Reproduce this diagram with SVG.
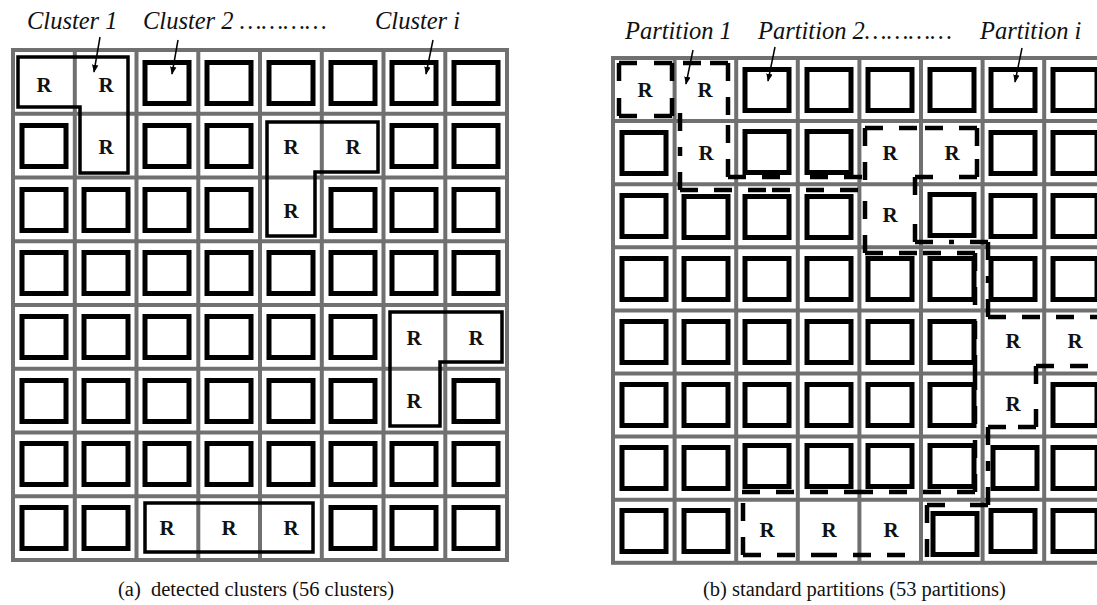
<svg xmlns="http://www.w3.org/2000/svg" xmlns:xlink="http://www.w3.org/1999/xlink" width="1097" height="605" viewBox="0 0 1097 605">
<style>
.grid{fill:none;stroke:#707070;stroke-width:4}
.sq{fill:none;stroke:#000;stroke-width:5}
.r{font-family:"Liberation Serif","Times New Roman",serif;font-weight:bold;font-size:21px;text-anchor:middle;fill:#111}
.lbl{font-family:"Liberation Serif","Times New Roman",serif;font-style:italic;font-size:24.5px;fill:#111}
.cap{font-family:"Liberation Serif","Times New Roman",serif;font-size:20.5px;fill:#111}
.cl{fill:none;stroke:#000;stroke-width:3.5}
.dash{fill:none;stroke:#000;stroke-width:4.5;stroke-dasharray:18 16}
.arr{stroke:#000;stroke-width:1.5;fill:none}
</style>
<defs>
<rect id="sq" class="sq" x="-22" y="-20.5" width="44" height="41"/>
<marker id="ah" viewBox="0 0 10 10" refX="9" refY="5" markerWidth="8" markerHeight="8" orient="auto" markerUnits="userSpaceOnUse"><path d="M0,1 L10,5 L0,9 z" fill="#000"/></marker>
</defs>
<rect width="1097" height="605" fill="#fff"/>

<g id="grid-a">
<rect class="grid" x="13" y="50" width="494" height="510"/>
<path class="grid" d="M74.8 50V560M136.5 50V560M198.3 50V560M260 50V560M321.8 50V560M383.5 50V560M445.3 50V560M13 113.8H507M13 177.5H507M13 241.3H507M13 305H507M13 368.8H507M13 432.5H507M13 496.3H507"/>
</g>
<g id="cells-a">
<use xlink:href="#sq" x="167" y="83"/><use xlink:href="#sq" x="229" y="83"/><use xlink:href="#sq" x="291" y="83"/><use xlink:href="#sq" x="353" y="83"/><use xlink:href="#sq" x="414" y="83"/><use xlink:href="#sq" x="476" y="83"/>
<use xlink:href="#sq" x="44" y="146"/><use xlink:href="#sq" x="167" y="146"/><use xlink:href="#sq" x="229" y="146"/><use xlink:href="#sq" x="414" y="146"/><use xlink:href="#sq" x="476" y="146"/>
<use xlink:href="#sq" x="44" y="210"/><use xlink:href="#sq" x="106" y="210"/><use xlink:href="#sq" x="167" y="210"/><use xlink:href="#sq" x="229" y="210"/><use xlink:href="#sq" x="353" y="210"/><use xlink:href="#sq" x="414" y="210"/><use xlink:href="#sq" x="476" y="210"/>
<use xlink:href="#sq" x="44" y="273"/><use xlink:href="#sq" x="106" y="273"/><use xlink:href="#sq" x="167" y="273"/><use xlink:href="#sq" x="229" y="273"/><use xlink:href="#sq" x="291" y="273"/><use xlink:href="#sq" x="353" y="273"/><use xlink:href="#sq" x="414" y="273"/><use xlink:href="#sq" x="476" y="273"/>
<use xlink:href="#sq" x="44" y="337"/><use xlink:href="#sq" x="106" y="337"/><use xlink:href="#sq" x="167" y="337"/><use xlink:href="#sq" x="229" y="337"/><use xlink:href="#sq" x="291" y="337"/><use xlink:href="#sq" x="353" y="337"/>
<use xlink:href="#sq" x="44" y="401"/><use xlink:href="#sq" x="106" y="401"/><use xlink:href="#sq" x="167" y="401"/><use xlink:href="#sq" x="229" y="401"/><use xlink:href="#sq" x="291" y="401"/><use xlink:href="#sq" x="353" y="401"/><use xlink:href="#sq" x="476" y="401"/>
<use xlink:href="#sq" x="44" y="464"/><use xlink:href="#sq" x="106" y="464"/><use xlink:href="#sq" x="167" y="464"/><use xlink:href="#sq" x="229" y="464"/><use xlink:href="#sq" x="291" y="464"/><use xlink:href="#sq" x="353" y="464"/><use xlink:href="#sq" x="414" y="464"/><use xlink:href="#sq" x="476" y="464"/>
<use xlink:href="#sq" x="44" y="528"/><use xlink:href="#sq" x="106" y="528"/><use xlink:href="#sq" x="353" y="528"/><use xlink:href="#sq" x="414" y="528"/><use xlink:href="#sq" x="476" y="528"/>
<text class="r" x="44" y="92">R</text><text class="r" x="106" y="92">R</text>
<text class="r" x="106" y="154">R</text><text class="r" x="291" y="154">R</text><text class="r" x="353" y="154">R</text>
<text class="r" x="291" y="218">R</text>
<text class="r" x="414" y="345">R</text><text class="r" x="476" y="345">R</text>
<text class="r" x="414" y="408">R</text>
<text class="r" x="167" y="535">R</text><text class="r" x="229" y="535">R</text><text class="r" x="291" y="535">R</text>
</g>
<g id="clusters-a">
<path class="cl" d="M18 57H128V173H80V107H18Z"/>
<path class="cl" d="M267 122H378V172H315V236H267Z"/>
<path class="cl" d="M390 312H502V362H440V426H390Z"/>
<path class="cl" d="M145 503H313V552H145Z"/>
</g>

<g id="grid-b">
<rect class="grid" x="613" y="58" width="492.8" height="504.8"/>
<path class="grid" d="M674.6 58V563M736.2 58V563M797.8 58V563M859.4 58V563M921 58V563M982.6 58V563M1044.2 58V563M613 121.1H1106M613 184.2H1106M613 247.3H1106M613 310.4H1106M613 373.5H1106M613 436.6H1106M613 499.7H1106"/>
</g>
<g id="cells-b">
<use xlink:href="#sq" x="767" y="90"/><use xlink:href="#sq" x="829" y="90"/><use xlink:href="#sq" x="890" y="90"/><use xlink:href="#sq" x="952" y="90"/><use xlink:href="#sq" x="1013" y="90"/><use xlink:href="#sq" x="1075" y="90"/>
<use xlink:href="#sq" x="644" y="153"/><use xlink:href="#sq" x="767" y="152"/><use xlink:href="#sq" x="829" y="152"/><use xlink:href="#sq" x="1013" y="153"/><use xlink:href="#sq" x="1075" y="153"/>
<use xlink:href="#sq" x="644" y="216"/><use xlink:href="#sq" x="706" y="217"/><use xlink:href="#sq" x="767" y="217"/><use xlink:href="#sq" x="829" y="217"/><use xlink:href="#sq" x="952" y="215"/><use xlink:href="#sq" x="1013" y="216"/><use xlink:href="#sq" x="1075" y="216"/>
<use xlink:href="#sq" x="644" y="279"/><use xlink:href="#sq" x="706" y="279"/><use xlink:href="#sq" x="767" y="279"/><use xlink:href="#sq" x="829" y="279"/><use xlink:href="#sq" x="890" y="279"/><use xlink:href="#sq" x="952" y="279"/><use xlink:href="#sq" x="1013" y="279"/><use xlink:href="#sq" x="1075" y="279"/>
<use xlink:href="#sq" x="644" y="342"/><use xlink:href="#sq" x="706" y="342"/><use xlink:href="#sq" x="767" y="342"/><use xlink:href="#sq" x="829" y="342"/><use xlink:href="#sq" x="890" y="342"/><use xlink:href="#sq" x="952" y="342"/>
<use xlink:href="#sq" x="644" y="405"/><use xlink:href="#sq" x="706" y="405"/><use xlink:href="#sq" x="767" y="405"/><use xlink:href="#sq" x="829" y="405"/><use xlink:href="#sq" x="890" y="405"/><use xlink:href="#sq" x="952" y="405"/><use xlink:href="#sq" x="1075" y="405"/>
<use xlink:href="#sq" x="644" y="468"/><use xlink:href="#sq" x="706" y="468"/><use xlink:href="#sq" x="767" y="466"/><use xlink:href="#sq" x="829" y="466"/><use xlink:href="#sq" x="890" y="466"/><use xlink:href="#sq" x="952" y="466"/><use xlink:href="#sq" x="1015" y="468"/><use xlink:href="#sq" x="1075" y="468"/>
<use xlink:href="#sq" x="644" y="531"/><use xlink:href="#sq" x="706" y="531"/><use xlink:href="#sq" x="955" y="534"/><use xlink:href="#sq" x="1013" y="531"/><use xlink:href="#sq" x="1075" y="531"/>
<text class="r" x="645" y="97">R</text><text class="r" x="705" y="97">R</text>
<text class="r" x="706" y="160">R</text><text class="r" x="890" y="160">R</text><text class="r" x="952" y="160">R</text>
<text class="r" x="890" y="222">R</text>
<text class="r" x="1013" y="348">R</text><text class="r" x="1075" y="348">R</text>
<text class="r" x="1013" y="411">R</text>
<text class="r" x="767" y="537">R</text><text class="r" x="829" y="537">R</text><text class="r" x="891" y="537">R</text>
</g>
<g id="partitions-b">
<path class="dash" d="M619 63H645.5M672 63H645.5M619 116H645.5M672 116H645.5M619 63V89.5M619 116V89.5M672 63V89.5M672 116V89.5
M683 63H705.5M728 63H705.5M728 63V120M728 177V120M728 177H795M862 177H795
M680 113V151.5M680 190V151.5M680 190H769M858 190H769
M865 128V190.5M865 253V190.5M865 128H921M977 128H921M977 128V152.5M977 177V152.5M915 177H946M977 177H946M915 177V209.5M915 242V209.5M915 242H951.5M988 242H951.5M988 242V279.5M988 317V279.5
M865 253H920M975 253H920M975 253V372.5M975 492V372.5M742 492H858.5M975 492H858.5
M988 317H1100M1036 366H1100M1036 366V396.5M1036 427V396.5M988 427H1012M1036 427H1012M988 427V466M988 505V466
M927 505H957.5M988 505H957.5M927 505V531M927 557V531
M743 503V529M743 555V529M743 555H824M905 555H824"/>
</g>

<g id="labels">
<text class="lbl" x="27" y="29">Cluster 1</text>
<text class="lbl" x="143" y="29">Cluster 2 …………</text>
<text class="lbl" x="375" y="29">Cluster i</text>
<text class="lbl" x="625" y="39">Partition 1</text>
<text class="lbl" x="758" y="39">Partition 2…………</text>
<text class="lbl" x="980" y="39">Partition i</text>
</g>
<g id="connectors">
<line class="arr" x1="100" y1="37" x2="94" y2="72" marker-end="url(#ah)"/>
<line class="arr" x1="178" y1="40" x2="172" y2="74" marker-end="url(#ah)"/>
<line class="arr" x1="433" y1="40" x2="426" y2="74" marker-end="url(#ah)"/>
<line class="arr" x1="693" y1="50" x2="686" y2="84" marker-end="url(#ah)"/>
<line class="arr" x1="775" y1="47" x2="768" y2="81" marker-end="url(#ah)"/>
<line class="arr" x1="1022" y1="48" x2="1015" y2="82" marker-end="url(#ah)"/>
</g>
<g id="captions">
<text class="cap" x="118" y="596">(a)&#160; detected clusters (56 clusters)</text>
<text class="cap" x="703" y="596">(b) standard partitions (53 partitions)</text>
</g>
</svg>
